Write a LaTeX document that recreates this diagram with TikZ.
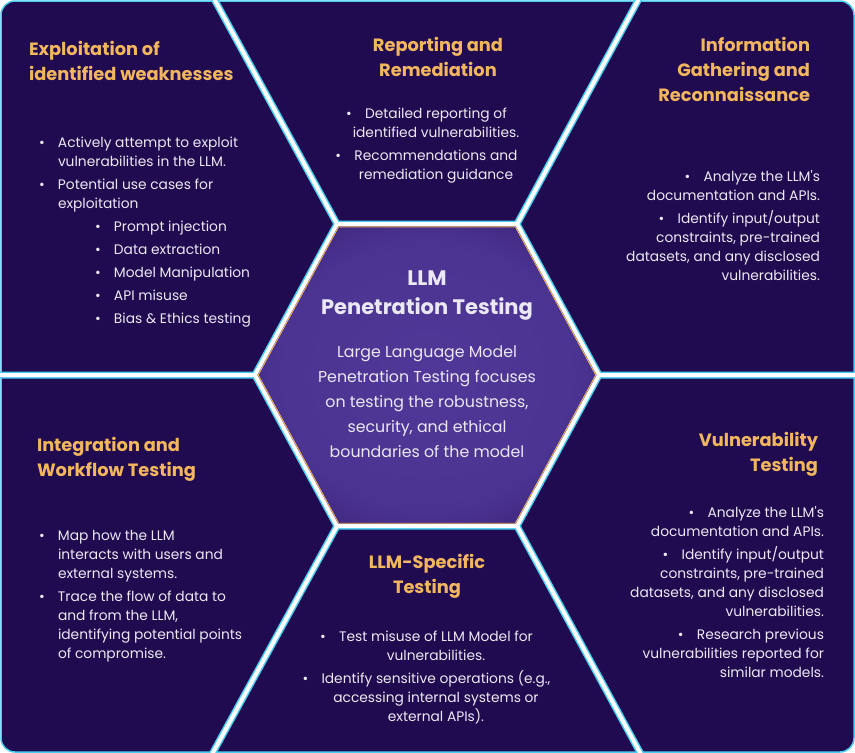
\documentclass[tikz,border=0pt]{standalone}
\usepackage{fontspec}
\setmainfont{Poppins}
\usetikzlibrary{positioning}
\definecolor{mypurple}{RGB}{33, 11, 80}
\definecolor{myhublight}{RGB}{80, 56, 152}
\definecolor{myhubdark}{RGB}{40, 18, 96}
\definecolor{mygold}{RGB}{242, 182, 94}
\definecolor{mycyan}{RGB}{72, 205, 240}
\definecolor{mytext}{RGB}{234, 232, 242}
\newcommand{\bul}{\llap{\makebox[19pt][l]{\textbullet}}}
\pgfdeclareradialshading{hubglow}{\pgfpoint{0bp}{0bp}}{color(0bp)=(myhublight); color(22bp)=(myhublight!88!myhubdark); color(42bp)=(myhubdark); color(50bp)=(myhubdark)}

\begin{document}
\begin{tikzpicture}[
   x=1pt, y=-1pt,
   every node/.style  = {inner sep=0pt, outer sep=0pt, text=mytext},
       titleNode/.style = {font=\fontsize{17.8}{25}\selectfont\bfseries, text=mygold},
       bodyNode/.style  = {font=\fontsize{13.8}{19}\selectfont},
       hubTitle/.style  = {font=\fontsize{21}{29}\selectfont\bfseries, align=center},
       hubText/.style   = {font=\fontsize{15.8}{25}\selectfont, align=center},
       gapCyan/.style   = {draw=mycyan, line width=7pt, line join=round},
       gapWhite/.style  = {draw=white, line width=4pt, line join=round}
]
    \useasboundingbox[fill=white] (0,0) rectangle (855,753);
    \draw[mycyan, line width=1.5pt, fill=mypurple, rounded corners=14pt] (1,1) rectangle (854,752);

    % hexagon and spokes
    \coordinate (hexL)  at (255,375);
    \coordinate (hexTL) at (337,224);
    \coordinate (hexTR) at (517,224);
    \coordinate (hexR)  at (599,375);
    \coordinate (hexBR) at (517,526);
    \coordinate (hexBL) at (337,526);
    \coordinate (spokeL)  at (-6,375);
    \coordinate (spokeR)  at (861,375);
    \coordinate (spokeTL) at (212,-5);
    \coordinate (spokeTR) at (641,-5);
    \coordinate (spokeBL) at (210,758);
    \coordinate (spokeBR) at (643,758);

    \draw[gapCyan] (hexL) -- (spokeL) (hexR) -- (spokeR) (hexTL) -- (spokeTL) (hexTR) -- (spokeTR) (hexBL) -- (spokeBL) (hexBR) -- (spokeBR);
    \draw[gapCyan] (hexL) -- (hexTL) -- (hexTR) -- (hexR) -- (hexBR) -- (hexBL) -- cycle;
    \shade[shading=hubglow] (hexL) -- (hexTL) -- (hexTR) -- (hexR) -- (hexBR) -- (hexBL) -- cycle;
    \draw[gapWhite] (hexL) -- (spokeL) (hexR) -- (spokeR) (hexTL) -- (spokeTL) (hexTR) -- (spokeTR) (hexBL) -- (spokeBL) (hexBR) -- (spokeBR);
    \draw[gapWhite] (hexL) -- (hexTL) -- (hexTR) -- (hexR) -- (hexBR) -- (hexBL) -- cycle;
    \draw[mygold, line width=0.9pt, line join=round] (258.2,375) -- (338.6,226.8) -- (515.4,226.8) -- (595.8,375) -- (515.4,523.2) -- (338.6,523.2) -- cycle;

    % centre
    \node[hubTitle, anchor=north] (llmHub) at (427,271) {LLM\\Penetration Testing};
    \node[hubText, anchor=north] (llmHubText) at (427,346) {Large Language Model\\Penetration Testing focuses\\on testing the robustness,\\security, and ethical\\boundaries of the model};

    % top row
    \node[titleNode, align=left, anchor=north west] (exploitTitle) at (29,41) {Exploitation of\\identified weaknesses};
    \node[bodyNode, align=left, anchor=north west] (exploitText) at (58,137) {\bul Actively attempt to exploit\\vulnerabilities in the LLM.\\[4pt]
        \bul Potential use cases for\\exploitation\\[4pt]
        \hspace*{56pt}\bul Prompt injection\\[4pt]
        \hspace*{56pt}\bul Data extraction\\[4pt]
        \hspace*{56pt}\bul Model Manipulation\\[4pt]
        \hspace*{56pt}\bul API misuse\\[4pt]
        \hspace*{56pt}\bul Bias \& Ethics testing};

    \node[titleNode, align=center, anchor=north] (reportTitle) at (438,37) {Reporting and\\Remediation};
    \node[bodyNode, align=center, anchor=north] (reportText) at (436,108) {\bul Detailed reporting of\\identified vulnerabilities.\\[4pt]
        \bul Recommendations and\\remediation guidance};

    \node[titleNode, align=right, anchor=north east] (infoTitle) at (810,37) {Information\\Gathering and\\Reconnaissance};
    \node[bodyNode, align=right, anchor=north east] (infoText) at (820,171) {\bul Analyze the LLM\textquotesingle s\\documentation and APIs.\\[4pt]
        \bul Identify input/output\\constraints, pre-trained\\datasets, and any disclosed\\vulnerabilities.};

    % bottom row
    \node[titleNode, align=left, anchor=north west] (workflowTitle) at (37,437) {Integration and\\Workflow Testing};
    \node[bodyNode, align=left, anchor=north west] (workflowText) at (58,530) {\bul Map how the LLM\\interacts with users and\\external systems.\\[4pt]
        \bul Trace the flow of data to\\and from the LLM,\\identifying potential points\\of compromise.};

    \node[titleNode, align=center, anchor=north] (specificTitle) at (427,554) {LLM-Specific\\Testing};
    \node[bodyNode, align=center, anchor=north] (specificText) at (436,631) {\bul Test misuse of LLM Model for\\vulnerabilities.\\[4pt]
        \bul Identify sensitive operations (e.g.,\\accessing internal systems or\\external APIs).};

    \node[titleNode, align=right, anchor=north east] (vulnTitle) at (818,432) {Vulnerability\\Testing};
    \node[bodyNode, align=right, anchor=north east] (vulnText) at (824,507) {\bul Analyze the LLM\textquotesingle s\\documentation and APIs.\\[4pt]
        \bul Identify input/output\\constraints, pre-trained\\datasets, and any disclosed\\vulnerabilities.\\[4pt]
        \bul Research previous\\vulnerabilities reported for\\similar models.};
\end{tikzpicture}
\end{document}
